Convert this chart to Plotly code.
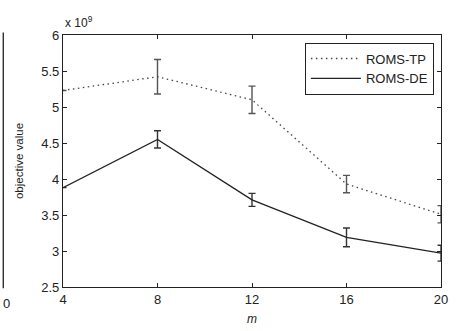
import plotly.graph_objects as go

# Number of clusters m
m = [4, 8, 12, 16, 20]

# Objective value (in units of 1e9)
roms_tp = [5.23, 5.42, 5.10, 3.93, 3.51]
roms_tp_err = [None, 0.24, 0.19, 0.12, 0.12]

roms_de = [3.88, 4.55, 3.71, 3.19, 2.97]
roms_de_err = [None, 0.12, 0.09, 0.13, 0.11]

x_ticks = [4, 8, 12, 16, 20]
y_ticks = [2.5, 3, 3.5, 4, 4.5, 5, 5.5, 6]

FONT = "Liberation Sans, Arial, sans-serif"

fig = go.Figure()

fig.add_trace(go.Scatter(
    x=m, y=roms_tp, name="ROMS-TP", mode="lines",
    line=dict(color="#444444", width=1.3, dash="1.5px,3.5px"),
    error_y=dict(type="data", array=roms_tp_err, visible=True,
                 color="#555555", thickness=1.4, width=3.5),
))
fig.add_trace(go.Scatter(
    x=m, y=roms_de, name="ROMS-DE", mode="lines",
    line=dict(color="#222222", width=1.3),
    error_y=dict(type="data", array=roms_de_err, visible=True,
                 color="#333333", thickness=1.4, width=3.5),
))

axis_common = dict(
    showgrid=False, zeroline=False, showline=True, linecolor="#222222",
    linewidth=1.3, mirror="allticks", ticks="inside", ticklen=4,
    tickcolor="#222222", tickfont=dict(family=FONT, size=13, color="#222222"),
)

fig.update_xaxes(range=[4, 20], tickvals=x_ticks, ticktext=[str(v) for v in x_ticks],
                 title=dict(text="<i>m</i>", font=dict(family=FONT, size=12, color="#222222"),
                            standoff=8),
                 **axis_common)
fig.update_yaxes(range=[2.5, 6], tickvals=y_ticks, ticktext=[f"{v:g}" for v in y_ticks],
                 title=dict(text="objective value", font=dict(family=FONT, size=11.5, color="#222222"),
                            standoff=15),
                 **axis_common)

fig.update_layout(
    width=456, height=331,
    margin=dict(l=63, r=8, t=35, b=44),
    paper_bgcolor="white", plot_bgcolor="white",
    font=dict(family=FONT, color="#222222"),
    showlegend=True,
    legend=dict(x=0.64, y=0.97, xanchor="left", yanchor="top",
                bgcolor="white", bordercolor="#222222", borderwidth=1,
                font=dict(family=FONT, size=13, color="#222222"),
                itemwidth=50, tracegroupgap=0),
    annotations=[
        dict(text="x 10<sup>9</sup>", xref="paper", yref="paper", x=0.0, y=1.01,
             xanchor="left", yanchor="bottom", showarrow=False,
             font=dict(family=FONT, size=12, color="#222222")),
        dict(text="0", xref="paper", yref="paper", x=-0.1636, y=-0.065,
             xanchor="left", yanchor="middle", showarrow=False,
             font=dict(family=FONT, size=13, color="#222222")),
    ],
    shapes=[
        dict(type="line", xref="paper", yref="paper", x0=-0.158, x1=-0.158,
             y0=-0.005, y1=1.01, line=dict(color="#222222", width=1.3)),
    ],
)

fig.write_html("out.html")
